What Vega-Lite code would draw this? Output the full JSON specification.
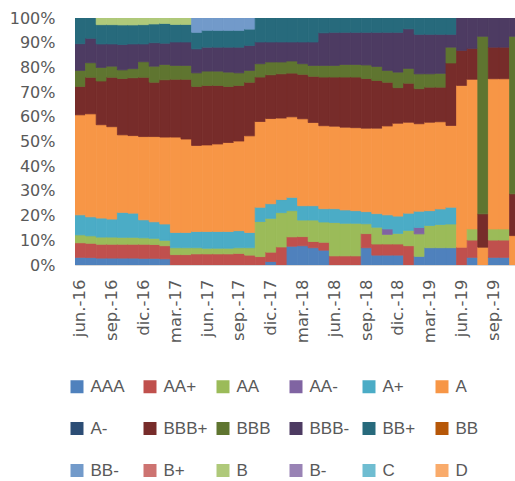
{
"$schema":"https://vega.github.io/schema/vega-lite/v6.json",
"width":440,"height":247,
"autosize":{"type":"none"},
"padding":{"left":75,"top":18,"right":0,"bottom":216},
"datasets":{"cats":[{"r":"AAA","o":0},{"r":"AA+","o":1},{"r":"AA","o":2},{"r":"AA-","o":3},{"r":"A+","o":4},{"r":"A","o":5},{"r":"A-","o":6},{"r":"BBB+","o":7},{"r":"BBB","o":8},{"r":"BBB-","o":9},{"r":"BB+","o":10},{"r":"BB","o":11},{"r":"BB-","o":12},{"r":"B+","o":13},{"r":"B","o":14},{"r":"B-","o":15},{"r":"C","o":16},{"r":"D","o":17}]},
"data":{"values":[
{"m":"jun.-16","r":"AAA","v":3.1},{"m":"jun.-16","r":"AA+","v":5.9},{"m":"jun.-16","r":"AA","v":3.2},{"m":"jun.-16","r":"A+","v":8.1},{"m":"jun.-16","r":"A","v":40.5},{"m":"jun.-16","r":"BBB+","v":11.5},{"m":"jun.-16","r":"BBB","v":6.5},{"m":"jun.-16","r":"BBB-","v":10.8},{"m":"jun.-16","r":"BB+","v":10.4},
{"m":"jul.-16","r":"AAA","v":3.0},{"m":"jul.-16","r":"AA+","v":5.8},{"m":"jul.-16","r":"AA","v":3.0},{"m":"jul.-16","r":"A+","v":7.7},{"m":"jul.-16","r":"A","v":41.7},{"m":"jul.-16","r":"BBB+","v":14.8},{"m":"jul.-16","r":"BBB","v":5.9},{"m":"jul.-16","r":"BBB-","v":9.9},{"m":"jul.-16","r":"BB+","v":8.2},
{"m":"ago.-16","r":"AAA","v":2.8},{"m":"ago.-16","r":"AA+","v":5.6},{"m":"ago.-16","r":"AA","v":2.9},{"m":"ago.-16","r":"A+","v":7.7},{"m":"ago.-16","r":"A","v":37.8},{"m":"ago.-16","r":"BBB+","v":17.7},{"m":"ago.-16","r":"BBB","v":5.5},{"m":"ago.-16","r":"BBB-","v":9.5},{"m":"ago.-16","r":"BB+","v":7.8},{"m":"ago.-16","r":"B","v":2.7},
{"m":"sep.-16","r":"AAA","v":2.8},{"m":"sep.-16","r":"AA+","v":5.6},{"m":"sep.-16","r":"AA","v":2.9},{"m":"sep.-16","r":"A+","v":7.3},{"m":"sep.-16","r":"A","v":37.4},{"m":"sep.-16","r":"BBB+","v":20.0},{"m":"sep.-16","r":"BBB","v":4.5},{"m":"sep.-16","r":"BBB-","v":9.0},{"m":"sep.-16","r":"BB+","v":7.8},{"m":"sep.-16","r":"B","v":2.7},
{"m":"oct.-16","r":"AAA","v":2.8},{"m":"oct.-16","r":"AA+","v":5.6},{"m":"oct.-16","r":"AA","v":2.8},{"m":"oct.-16","r":"A+","v":10.1},{"m":"oct.-16","r":"A","v":31.4},{"m":"oct.-16","r":"BBB+","v":22.8},{"m":"oct.-16","r":"BBB","v":3.5},{"m":"oct.-16","r":"BBB-","v":10.3},{"m":"oct.-16","r":"BB+","v":7.9},{"m":"oct.-16","r":"B","v":2.8},
{"m":"nov.-16","r":"AAA","v":2.8},{"m":"nov.-16","r":"AA+","v":5.6},{"m":"nov.-16","r":"AA","v":2.8},{"m":"nov.-16","r":"A+","v":9.8},{"m":"nov.-16","r":"A","v":31.4},{"m":"nov.-16","r":"BBB+","v":23.4},{"m":"nov.-16","r":"BBB","v":3.7},{"m":"nov.-16","r":"BBB-","v":10.0},{"m":"nov.-16","r":"BB+","v":7.7},{"m":"nov.-16","r":"B","v":2.8},
{"m":"dic.-16","r":"AAA","v":2.7},{"m":"dic.-16","r":"AA+","v":5.7},{"m":"dic.-16","r":"AA","v":2.6},{"m":"dic.-16","r":"A+","v":7.3},{"m":"dic.-16","r":"A","v":33.7},{"m":"dic.-16","r":"BBB+","v":24.0},{"m":"dic.-16","r":"BBB","v":6.3},{"m":"dic.-16","r":"BBB-","v":7.2},{"m":"dic.-16","r":"BB+","v":7.8},{"m":"dic.-16","r":"B","v":2.7},
{"m":"ene.-17","r":"AAA","v":2.7},{"m":"ene.-17","r":"AA+","v":5.6},{"m":"ene.-17","r":"AA","v":2.5},{"m":"ene.-17","r":"A+","v":6.7},{"m":"ene.-17","r":"A","v":34.5},{"m":"ene.-17","r":"BBB+","v":22.0},{"m":"ene.-17","r":"BBB","v":6.5},{"m":"ene.-17","r":"BBB-","v":9.5},{"m":"ene.-17","r":"BB+","v":7.6},{"m":"ene.-17","r":"B","v":2.4},
{"m":"feb.-17","r":"AAA","v":2.5},{"m":"feb.-17","r":"AA+","v":5.3},{"m":"feb.-17","r":"AA","v":2.2},{"m":"feb.-17","r":"A+","v":6.6},{"m":"feb.-17","r":"A","v":35.2},{"m":"feb.-17","r":"BBB+","v":23.2},{"m":"feb.-17","r":"BBB","v":6.2},{"m":"feb.-17","r":"BBB-","v":8.6},{"m":"feb.-17","r":"BB+","v":8.0},{"m":"feb.-17","r":"B","v":2.2},
{"m":"mar.-17","r":"AA+","v":4.2},{"m":"mar.-17","r":"AA","v":2.8},{"m":"mar.-17","r":"A+","v":6.2},{"m":"mar.-17","r":"A","v":38.6},{"m":"mar.-17","r":"BBB+","v":23.4},{"m":"mar.-17","r":"BBB","v":5.6},{"m":"mar.-17","r":"BBB-","v":9.5},{"m":"mar.-17","r":"BB+","v":7.1},{"m":"mar.-17","r":"B","v":2.6},
{"m":"abr.-17","r":"AA+","v":4.2},{"m":"abr.-17","r":"AA","v":2.8},{"m":"abr.-17","r":"A+","v":6.2},{"m":"abr.-17","r":"A","v":37.8},{"m":"abr.-17","r":"BBB+","v":24.2},{"m":"abr.-17","r":"BBB","v":5.6},{"m":"abr.-17","r":"BBB-","v":9.5},{"m":"abr.-17","r":"BB+","v":7.1},{"m":"abr.-17","r":"B","v":2.6},
{"m":"may.-17","r":"AA+","v":4.5},{"m":"may.-17","r":"AA","v":2.5},{"m":"may.-17","r":"A+","v":6.6},{"m":"may.-17","r":"A","v":34.8},{"m":"may.-17","r":"BBB+","v":23.9},{"m":"may.-17","r":"BBB","v":5.5},{"m":"may.-17","r":"BBB-","v":9.7},{"m":"may.-17","r":"BB+","v":6.7},{"m":"may.-17","r":"BB-","v":5.8},
{"m":"jun.-17","r":"AA+","v":4.5},{"m":"jun.-17","r":"AA","v":2.3},{"m":"jun.-17","r":"A+","v":6.8},{"m":"jun.-17","r":"A","v":35.0},{"m":"jun.-17","r":"BBB+","v":24.1},{"m":"jun.-17","r":"BBB","v":5.8},{"m":"jun.-17","r":"BBB-","v":9.7},{"m":"jun.-17","r":"BB+","v":6.8},{"m":"jun.-17","r":"BB-","v":5.0},
{"m":"jul.-17","r":"AA+","v":4.5},{"m":"jul.-17","r":"AA","v":2.3},{"m":"jul.-17","r":"A+","v":6.8},{"m":"jul.-17","r":"A","v":35.4},{"m":"jul.-17","r":"BBB+","v":23.7},{"m":"jul.-17","r":"BBB","v":5.8},{"m":"jul.-17","r":"BBB-","v":9.7},{"m":"jul.-17","r":"BB+","v":6.8},{"m":"jul.-17","r":"BB-","v":5.0},
{"m":"ago.-17","r":"AA+","v":4.5},{"m":"ago.-17","r":"AA","v":2.3},{"m":"ago.-17","r":"A+","v":6.8},{"m":"ago.-17","r":"A","v":36.0},{"m":"ago.-17","r":"BBB+","v":22.7},{"m":"ago.-17","r":"BBB","v":5.8},{"m":"ago.-17","r":"BBB-","v":10.1},{"m":"ago.-17","r":"BB+","v":6.8},{"m":"ago.-17","r":"BB-","v":5.0},
{"m":"sep.-17","r":"AA+","v":4.7},{"m":"sep.-17","r":"AA","v":2.3},{"m":"sep.-17","r":"A+","v":6.9},{"m":"sep.-17","r":"A","v":36.3},{"m":"sep.-17","r":"BBB+","v":22.5},{"m":"sep.-17","r":"BBB","v":5.1},{"m":"sep.-17","r":"BBB-","v":10.4},{"m":"sep.-17","r":"BB+","v":6.8},{"m":"sep.-17","r":"BB-","v":5.0},
{"m":"oct.-17","r":"AA+","v":4.0},{"m":"oct.-17","r":"AA","v":3.0},{"m":"oct.-17","r":"A+","v":6.2},{"m":"oct.-17","r":"A","v":39.1},{"m":"oct.-17","r":"BBB+","v":21.7},{"m":"oct.-17","r":"BBB","v":4.8},{"m":"oct.-17","r":"BBB-","v":10.1},{"m":"oct.-17","r":"BB+","v":6.6},{"m":"oct.-17","r":"BB-","v":4.5},
{"m":"nov.-17","r":"AA+","v":3.4},{"m":"nov.-17","r":"AA","v":14.2},{"m":"nov.-17","r":"A+","v":5.8},{"m":"nov.-17","r":"A","v":34.7},{"m":"nov.-17","r":"BBB+","v":18.0},{"m":"nov.-17","r":"BBB","v":5.4},{"m":"nov.-17","r":"BBB-","v":8.8},{"m":"nov.-17","r":"BB+","v":9.7},
{"m":"dic.-17","r":"AAA","v":1.4},{"m":"dic.-17","r":"AA+","v":3.8},{"m":"dic.-17","r":"AA","v":13.7},{"m":"dic.-17","r":"A+","v":5.9},{"m":"dic.-17","r":"A","v":34.5},{"m":"dic.-17","r":"BBB+","v":17.7},{"m":"dic.-17","r":"BBB","v":5.2},{"m":"dic.-17","r":"BBB-","v":8.1},{"m":"dic.-17","r":"BB+","v":9.7},
{"m":"ene.-18","r":"AA+","v":7.3},{"m":"ene.-18","r":"AA","v":13.9},{"m":"ene.-18","r":"A+","v":5.3},{"m":"ene.-18","r":"A","v":33.0},{"m":"ene.-18","r":"BBB+","v":17.9},{"m":"ene.-18","r":"BBB","v":4.8},{"m":"ene.-18","r":"BBB-","v":8.1},{"m":"ene.-18","r":"BB+","v":9.7},
{"m":"feb.-18","r":"AAA","v":7.6},{"m":"feb.-18","r":"AA+","v":3.8},{"m":"feb.-18","r":"AA","v":10.6},{"m":"feb.-18","r":"A+","v":5.4},{"m":"feb.-18","r":"A","v":32.6},{"m":"feb.-18","r":"BBB+","v":17.7},{"m":"feb.-18","r":"BBB","v":4.9},{"m":"feb.-18","r":"BBB-","v":7.7},{"m":"feb.-18","r":"BB+","v":9.7},
{"m":"mar.-18","r":"AAA","v":7.8},{"m":"mar.-18","r":"AA+","v":3.7},{"m":"mar.-18","r":"AA","v":6.7},{"m":"mar.-18","r":"A+","v":5.8},{"m":"mar.-18","r":"A","v":35.2},{"m":"mar.-18","r":"BBB+","v":18.0},{"m":"mar.-18","r":"BBB","v":4.3},{"m":"mar.-18","r":"BBB-","v":8.8},{"m":"mar.-18","r":"BB+","v":9.7},
{"m":"abr.-18","r":"AAA","v":7.0},{"m":"abr.-18","r":"AA+","v":2.5},{"m":"abr.-18","r":"AA","v":8.7},{"m":"abr.-18","r":"A+","v":5.8},{"m":"abr.-18","r":"A","v":33.7},{"m":"abr.-18","r":"BBB+","v":18.7},{"m":"abr.-18","r":"BBB","v":4.4},{"m":"abr.-18","r":"BBB-","v":9.5},{"m":"abr.-18","r":"BB+","v":9.7},
{"m":"may.-18","r":"AAA","v":6.0},{"m":"may.-18","r":"AA+","v":3.2},{"m":"may.-18","r":"AA","v":8.2},{"m":"may.-18","r":"A+","v":5.4},{"m":"may.-18","r":"A","v":33.6},{"m":"may.-18","r":"BBB+","v":19.7},{"m":"may.-18","r":"BBB","v":4.7},{"m":"may.-18","r":"BBB-","v":13.2},{"m":"may.-18","r":"BB+","v":6.0},
{"m":"jun.-18","r":"AA+","v":3.7},{"m":"jun.-18","r":"AA","v":13.5},{"m":"jun.-18","r":"A+","v":5.6},{"m":"jun.-18","r":"A","v":33.4},{"m":"jun.-18","r":"BBB+","v":19.9},{"m":"jun.-18","r":"BBB","v":4.7},{"m":"jun.-18","r":"BBB-","v":13.4},{"m":"jun.-18","r":"BB+","v":5.8},
{"m":"jul.-18","r":"AA+","v":3.7},{"m":"jul.-18","r":"AA","v":13.2},{"m":"jul.-18","r":"A+","v":5.4},{"m":"jul.-18","r":"A","v":33.5},{"m":"jul.-18","r":"BBB+","v":20.3},{"m":"jul.-18","r":"BBB","v":5.1},{"m":"jul.-18","r":"BBB-","v":13.0},{"m":"jul.-18","r":"BB+","v":5.8},
{"m":"ago.-18","r":"AA+","v":3.7},{"m":"ago.-18","r":"AA","v":13.2},{"m":"ago.-18","r":"A+","v":5.1},{"m":"ago.-18","r":"A","v":33.6},{"m":"ago.-18","r":"BBB+","v":20.5},{"m":"ago.-18","r":"BBB","v":5.1},{"m":"ago.-18","r":"BBB-","v":13.0},{"m":"ago.-18","r":"BB+","v":5.8},
{"m":"sep.-18","r":"AAA","v":7.0},{"m":"sep.-18","r":"AA+","v":5.7},{"m":"sep.-18","r":"AA","v":4.0},{"m":"sep.-18","r":"A+","v":4.9},{"m":"sep.-18","r":"A","v":33.8},{"m":"sep.-18","r":"BBB+","v":20.1},{"m":"sep.-18","r":"BBB","v":5.5},{"m":"sep.-18","r":"BBB-","v":13.2},{"m":"sep.-18","r":"BB+","v":5.8},
{"m":"oct.-18","r":"AAA","v":4.0},{"m":"oct.-18","r":"AA+","v":4.5},{"m":"oct.-18","r":"AA","v":6.8},{"m":"oct.-18","r":"A+","v":5.5},{"m":"oct.-18","r":"A","v":34.6},{"m":"oct.-18","r":"BBB+","v":19.3},{"m":"oct.-18","r":"BBB","v":5.7},{"m":"oct.-18","r":"BBB-","v":13.8},{"m":"oct.-18","r":"BB+","v":5.8},
{"m":"nov.-18","r":"AAA","v":4.0},{"m":"nov.-18","r":"AA+","v":4.5},{"m":"nov.-18","r":"AA","v":3.9},{"m":"nov.-18","r":"AA-","v":2.2},{"m":"nov.-18","r":"A+","v":5.7},{"m":"nov.-18","r":"A","v":36.0},{"m":"nov.-18","r":"BBB+","v":17.7},{"m":"nov.-18","r":"BBB","v":4.8},{"m":"nov.-18","r":"BBB-","v":15.4},{"m":"nov.-18","r":"BB+","v":5.8},
{"m":"dic.-18","r":"AAA","v":4.0},{"m":"dic.-18","r":"AA+","v":4.5},{"m":"dic.-18","r":"AA","v":4.3},{"m":"dic.-18","r":"A+","v":7.0},{"m":"dic.-18","r":"A","v":37.6},{"m":"dic.-18","r":"BBB+","v":14.4},{"m":"dic.-18","r":"BBB","v":6.3},{"m":"dic.-18","r":"BBB-","v":16.1},{"m":"dic.-18","r":"BB+","v":5.8},
{"m":"ene.-19","r":"AA+","v":7.8},{"m":"ene.-19","r":"AA","v":6.2},{"m":"ene.-19","r":"A+","v":7.0},{"m":"ene.-19","r":"A","v":36.8},{"m":"ene.-19","r":"BBB+","v":15.8},{"m":"ene.-19","r":"BBB","v":6.0},{"m":"ene.-19","r":"BBB-","v":16.0},{"m":"ene.-19","r":"BB+","v":4.4},
{"m":"feb.-19","r":"AAA","v":3.5},{"m":"feb.-19","r":"AA","v":9.1},{"m":"feb.-19","r":"AA-","v":2.6},{"m":"feb.-19","r":"A+","v":6.6},{"m":"feb.-19","r":"A","v":35.4},{"m":"feb.-19","r":"BBB+","v":14.2},{"m":"feb.-19","r":"BBB","v":6.0},{"m":"feb.-19","r":"BBB-","v":16.0},{"m":"feb.-19","r":"BB+","v":6.6},
{"m":"mar.-19","r":"AAA","v":7.0},{"m":"mar.-19","r":"AA","v":9.0},{"m":"mar.-19","r":"A+","v":6.0},{"m":"mar.-19","r":"A","v":35.8},{"m":"mar.-19","r":"BBB+","v":14.2},{"m":"mar.-19","r":"BBB","v":5.4},{"m":"mar.-19","r":"BBB-","v":16.0},{"m":"mar.-19","r":"BB+","v":6.6},
{"m":"abr.-19","r":"AAA","v":7.0},{"m":"abr.-19","r":"AA","v":9.4},{"m":"abr.-19","r":"A+","v":6.3},{"m":"abr.-19","r":"A","v":35.3},{"m":"abr.-19","r":"BBB+","v":14.0},{"m":"abr.-19","r":"BBB","v":5.6},{"m":"abr.-19","r":"BBB-","v":15.8},{"m":"abr.-19","r":"BB+","v":6.6},
{"m":"may.-19","r":"AAA","v":7.0},{"m":"may.-19","r":"AA","v":9.6},{"m":"may.-19","r":"A+","v":6.8},{"m":"may.-19","r":"A","v":33.1},{"m":"may.-19","r":"BBB+","v":25.3},{"m":"may.-19","r":"BBB","v":6.4},{"m":"may.-19","r":"BBB-","v":5.2},{"m":"may.-19","r":"BB+","v":6.6},
{"m":"jun.-19","r":"AA+","v":7.2},{"m":"jun.-19","r":"A","v":65.5},{"m":"jun.-19","r":"BBB+","v":14.2},{"m":"jun.-19","r":"BBB-","v":13.1},
{"m":"jul.-19","r":"AAA","v":3.1},{"m":"jul.-19","r":"AA+","v":7.0},{"m":"jul.-19","r":"AA","v":4.5},{"m":"jul.-19","r":"A","v":60.6},{"m":"jul.-19","r":"BBB+","v":12.5},{"m":"jul.-19","r":"BBB-","v":12.3},
{"m":"ago.-19","r":"A","v":7.2},{"m":"ago.-19","r":"BBB+","v":13.5},{"m":"ago.-19","r":"BBB","v":71.9},{"m":"ago.-19","r":"BBB-","v":7.4},
{"m":"sep.-19","r":"AAA","v":3.1},{"m":"sep.-19","r":"AA+","v":7.0},{"m":"sep.-19","r":"AA","v":4.5},{"m":"sep.-19","r":"A","v":60.8},{"m":"sep.-19","r":"BBB+","v":12.8},{"m":"sep.-19","r":"BBB-","v":11.8},
{"m":"oct.-19","r":"AAA","v":3.1},{"m":"oct.-19","r":"AA+","v":7.0},{"m":"oct.-19","r":"AA","v":4.5},{"m":"oct.-19","r":"A","v":60.8},{"m":"oct.-19","r":"BBB+","v":12.8},{"m":"oct.-19","r":"BBB-","v":11.8},
{"m":"nov.-19","r":"A","v":11.9},{"m":"nov.-19","r":"BBB+","v":16.9},{"m":"nov.-19","r":"BBB","v":63.8},{"m":"nov.-19","r":"BBB-","v":7.4}
]},
"transform":[{"lookup":"r","from":{"data":{"name":"cats"},"key":"r","fields":["o"]}}],
"mark":{"type":"bar","clip":true,"strokeWidth":0.8},
"encoding":{
"x":{"field":"m","type":"ordinal","title":null,
"scale":{"domain":["jun.-16","jul.-16","ago.-16","sep.-16","oct.-16","nov.-16","dic.-16","ene.-17","feb.-17","mar.-17","abr.-17","may.-17","jun.-17","jul.-17","ago.-17","sep.-17","oct.-17","nov.-17","dic.-17","ene.-18","feb.-18","mar.-18","abr.-18","may.-18","jun.-18","jul.-18","ago.-18","sep.-18","oct.-18","nov.-18","dic.-18","ene.-19","feb.-19","mar.-19","abr.-19","may.-19","jun.-19","jul.-19","ago.-19","sep.-19","oct.-19","nov.-19"],"range":[0,445.2],"paddingInner":0,"paddingOuter":0},
"axis":{"values":["jun.-16","sep.-16","dic.-16","mar.-17","jun.-17","sep.-17","dic.-17","mar.-18","jun.-18","sep.-18","dic.-18","mar.-19","jun.-19","sep.-19"],"labelAngle":-90,"labelPadding":14,"ticks":false,"domain":false,"grid":false,"labelFont":"DejaVu Sans","labelFontSize":16.5,"labelColor":"#595959","labelOverlap":false}},
"y":{"field":"v","type":"quantitative","stack":"normalize","title":null,
"scale":{"domain":[0,1]},
"axis":{"values":[0,0.1,0.2,0.3,0.4,0.5,0.6,0.7,0.8,0.9,1],"format":".0%","labelPadding":20,"ticks":false,"domain":false,"grid":false,"labelFont":"DejaVu Sans","labelFontSize":16,"labelColor":"#595959"}},
"color":{"field":"r","type":"nominal","title":null,
"scale":{"domain":["AAA","AA+","AA","AA-","A+","A","A-","BBB+","BBB","BBB-","BB+","BB","BB-","B+","B","B-","C","D"],
"range":["#4F81BD","#C0504D","#9BBB59","#8064A2","#4BACC6","#F79646","#2C4D75","#772C2A","#5F7530","#4D3B62","#276A7C","#B65708","#729ACA","#CD7371","#AFC97A","#9983B5","#6FBDD1","#F9AB6B"]},
"legend":{"orient":"none","legendX":-6.5,"legendY":360,"direction":"horizontal","columns":6,"gridAlign":"all","columnPadding":7,"rowPadding":24,"symbolType":"square","symbolSize":169,"symbolStrokeWidth":0,"labelOffset":5,"labelFont":"Liberation Sans","labelFontSize":17,"labelColor":"#595959","padding":0}},
"stroke":{"field":"r","type":"nominal","legend":null,
"scale":{"domain":["AAA","AA+","AA","AA-","A+","A","A-","BBB+","BBB","BBB-","BB+","BB","BB-","B+","B","B-","C","D"],
"range":["#4F81BD","#C0504D","#9BBB59","#8064A2","#4BACC6","#F79646","#2C4D75","#772C2A","#5F7530","#4D3B62","#276A7C","#B65708","#729ACA","#CD7371","#AFC97A","#9983B5","#6FBDD1","#F9AB6B"]}},
"order":{"field":"o","type":"quantitative"}
},
"config":{"view":{"stroke":"#d9d9d9"},"background":"white"}
}
